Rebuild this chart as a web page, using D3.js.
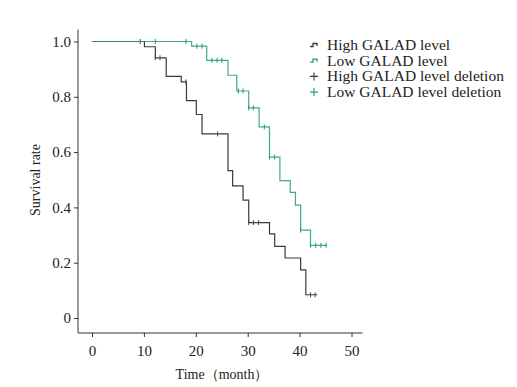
<!DOCTYPE html>
<html>
<head>
<meta charset="utf-8">
<title>GALAD survival</title>
<script src="https://d3js.org/d3.v7.min.js"></script>
<style>
 body { margin: 0; background: #fff; }
 text { font-family: "Liberation Serif", "DejaVu Serif", serif; fill: #222; }
</style>
</head>
<body>
<svg id="chart" width="517" height="387"></svg>
<script>
// step curves: [time, survival after the drop]
var highSteps = [[0, 1.0], [10.1, 0.981], [12.2, 0.941], [14.3, 0.874], [17.2, 0.854],
                 [18.2, 0.786], [20.1, 0.736], [21.2, 0.666], [26.2, 0.533], [27.1, 0.478],
                 [29.1, 0.426], [30.2, 0.345], [34.2, 0.304], [35.2, 0.259], [37.2, 0.217],
                 [40.2, 0.174], [41.2, 0.084]]
var highEnd = 43.4
var lowSteps = [[0, 1.0], [19.2, 0.983], [22.1, 0.932], [26.2, 0.878], [27.9, 0.821],
                [30.2, 0.760], [32.2, 0.691], [34.2, 0.582], [36.2, 0.497], [38.2, 0.454],
                [39.2, 0.408], [40.2, 0.318], [42.1, 0.263]]
var lowEnd = 45.3
// censored times
var highCensor = [9.3, 12.2, 13.1, 18.1, 24.2, 30.2, 31.1, 32.1, 42.1, 43.0]
var lowCensor = [12.2, 18.1, 20.2, 21.2, 23.1, 24.1, 25.0, 28.2, 29.1, 30.2, 31.1,
                 33.2, 34.2, 35.2, 40.2, 42.1, 43.1, 44.1, 45.1]
var xTicks = [0, 10, 20, 30, 40, 50]
var yTicks = [0, 0.2, 0.4, 0.6, 0.8, 1.0]
var legendLabels = ["High GALAD level", "Low GALAD level",
                    "High GALAD level deletion", "Low GALAD level deletion"]

var black = "#3a3a3a", green = "#1f9e5e", censorBlack = "#3a4a80"

var svg = d3.select("#chart")
var x = d3.scaleLinear().domain([0, 50]).range([92, 351.5])
var y = d3.scaleLinear().domain([0, 1]).range([318, 41.5])

// axes
var xAxis = d3.axisBottom(x).tickValues(xTicks).tickSize(4).tickSizeOuter(0)
var gx = svg.append("g").attr("transform", "translate(0,333)").call(xAxis)
gx.select(".domain").remove()
gx.append("line").attr("x1", x(-2.7)).attr("x2", x(52.1)).attr("stroke", "#333")
gx.selectAll("text").attr("dy", "1.05em").style("font-size", "15px")

var yAxis = d3.axisLeft(y).tickValues(yTicks).tickSize(4).tickSizeOuter(0)
    .tickFormat(function(d){ return d === 0 ? "0" : d3.format(".1f")(d) })
var gy = svg.append("g").attr("transform", "translate(78,0)").call(yAxis)
gy.select(".domain").remove()
gy.append("line").attr("y1", y(-0.054)).attr("y2", y(1.043)).attr("stroke", "#333")
gy.selectAll("text").attr("x", -7).style("font-size", "15px")
svg.selectAll(".tick line").attr("stroke", "#333")

svg.append("text").attr("x", 222).attr("y", 379).attr("text-anchor", "middle")
   .style("font-size", "14px").text("Time（month）")
svg.append("text").attr("transform", "translate(40,180) rotate(-90)")
   .attr("text-anchor", "middle").style("font-size", "14px").text("Survival rate")

// step line helper
function stepPts(steps, end) {
    var pts = steps.slice()
    pts.push([end, steps[steps.length - 1][1]])
    return pts
}
function survAt(steps, t) {
    var s = 1
    steps.forEach(function(d){ if (d[0] <= t) s = d[1] })
    return s
}
var line = d3.line().x(function(d){ return x(d[0]) }).y(function(d){ return y(d[1]) })
    .curve(d3.curveStepAfter)

function drawCurve(steps, end, censor, col, markCol, op) {
    svg.append("path").datum(stepPts(steps, end)).attr("d", line)
       .attr("fill", "none").attr("stroke", col).attr("stroke-width", 1.2)
       .attr("stroke-opacity", op)
    svg.append("g").selectAll("line").data(censor).enter().append("line")
       .attr("x1", function(d){ return x(d) }).attr("x2", function(d){ return x(d) })
       .attr("y1", function(d){ return y(survAt(steps, d)) - 2.5 })
       .attr("y2", function(d){ return y(survAt(steps, d)) + 2.5 })
       .attr("stroke", markCol).attr("stroke-width", 1)
}
drawCurve(highSteps, highEnd, highCensor, black, censorBlack, 1)
drawCurve(lowSteps, lowEnd, lowCensor, green, green, 0.85)

// legend
var leg = svg.append("g").attr("transform", "translate(310,45)")
var rows = leg.selectAll("g").data(legendLabels).enter().append("g")
    .attr("transform", function(d, i){ return "translate(0," + (i * 15.7) + ")" })
rows.each(function(d, i){
    var g = d3.select(this), col = (i % 2 === 0) ? black : green
    if (i < 2) {
        g.append("path").attr("d", "M0,1.5 h3 v-3 h4 v2.5").attr("fill", "none")
         .attr("stroke", col).attr("stroke-width", 1.3)
    } else {
        g.append("path").attr("d", "M0,0 h8 M4,-4 v8").attr("stroke", col).attr("stroke-width", 1.1)
    }
    g.append("text").attr("x", 17).attr("y", 5).style("font-size", "15.5px").text(d)
})
</script>
</body>
</html>
